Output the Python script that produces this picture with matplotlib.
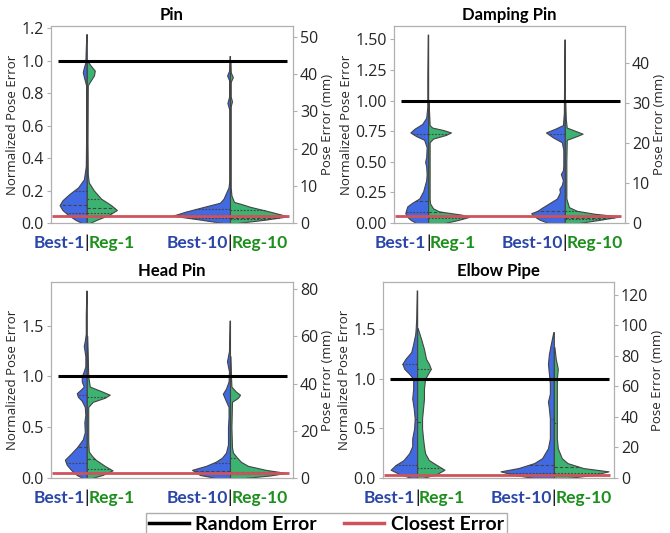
import numpy as np
import matplotlib
matplotlib.use("Agg")
import matplotlib.pyplot as plt
from matplotlib.lines import Line2D
from matplotlib.transforms import blended_transform_factory

# ---- panel level values ----
TITLES = ["Pin", "Damping Pin", "Head Pin", "Elbow Pipe"]
GROUP_LEFT = ["Best-1", "Best-10"]
GROUP_RIGHT = ["Reg-1", "Reg-10"]
RANDOM_ERR = [1.0, 1.0, 1.0, 1.0]
CLOSEST_ERR = [0.041, 0.058, 0.048, 0.034]
MM_PER_UNIT = [43.6, 30.6, 43.0, 64.9]     # normalized -> mm
Y_TOP = [1.215, 1.61, 1.93, 1.975]
LEFT_TICKS = [[0, 0.2, 0.4, 0.6, 0.8, 1.0, 1.2],
              [0, 0.25, 0.5, 0.75, 1.0, 1.25, 1.5],
              [0, 0.5, 1.0, 1.5],
              [0, 0.5, 1.0, 1.5]]
LEFT_FMT = ["%.1f", "%.2f", "%.1f", "%.1f"]
RIGHT_TICKS = [[0, 10, 20, 30, 40, 50],
               [0, 10, 20, 30, 40],
               [0, 20, 40, 60, 80],
               [0, 20, 40, 60, 80, 100, 120]]

# ---- half violin outlines: y (normalized error), half width ----
# Pin
PIN_B1_Y = [0, 0.02, 0.05, 0.08, 0.11, 0.14, 0.18, 0.22, 0.27, 0.35, 0.5, 0.85, 0.9, 0.93, 0.96, 0.99, 1.05, 1.165]
PIN_B1_W = [0.035, 0.08, 0.13, 0.17, 0.19, 0.17, 0.12, 0.06, 0.02, 0.007, 0.005, 0.005, 0.02, 0.028, 0.02, 0.01, 0.008, 0.003]
PIN_R1_Y = [0, 0.02, 0.05, 0.08, 0.11, 0.15, 0.2, 0.25, 0.3, 0.5, 0.85, 0.88, 0.91, 0.94, 0.97, 1.0]
PIN_R1_W = [0.02, 0.07, 0.155, 0.21, 0.17, 0.1, 0.05, 0.014, 0.007, 0.005, 0.007, 0.028, 0.05, 0.056, 0.028, 0.004]
PIN_B10_Y = [0, 0.02, 0.045, 0.07, 0.1, 0.125, 0.15, 0.19, 0.22, 0.26, 0.4, 0.7, 0.74, 0.78, 0.88, 0.91, 0.94, 1.03]
PIN_B10_W = [0.05, 0.2, 0.4, 0.31, 0.18, 0.07, 0.045, 0.025, 0.01, 0.005, 0.005, 0.005, 0.018, 0.006, 0.006, 0.02, 0.006, 0.003]
PIN_R10_Y = [0, 0.02, 0.041, 0.07, 0.1, 0.117, 0.13, 0.17, 0.22, 0.5, 0.72, 0.75, 0.78, 0.87, 0.9, 0.93, 1.0]
PIN_R10_W = [0.05, 0.24, 0.405, 0.28, 0.14, 0.08, 0.028, 0.01, 0.005, 0.005, 0.005, 0.014, 0.005, 0.005, 0.02, 0.005, 0.003]
# Damping Pin
DMP_B1_Y = [0, 0.027, 0.05, 0.08, 0.11, 0.136, 0.166, 0.2, 0.26, 0.35, 0.4, 0.46, 0.5, 0.54, 0.62, 0.68, 0.71, 0.74, 0.77, 0.81, 0.86, 0.95, 1.2, 1.54]
DMP_B1_W = [0.087, 0.13, 0.152, 0.167, 0.16, 0.152, 0.116, 0.065, 0.036, 0.014, 0.011, 0.014, 0.022, 0.014, 0.011, 0.029, 0.087, 0.13, 0.1, 0.043, 0.014, 0.006, 0.006, 0.003]
DMP_R1_Y = [0, 0.025, 0.05, 0.068, 0.095, 0.12, 0.16, 0.2, 0.4, 0.66, 0.69, 0.72, 0.74, 0.76, 0.78, 0.8, 0.9, 1.0]
DMP_R1_W = [0.12, 0.22, 0.3, 0.245, 0.08, 0.036, 0.014, 0.011, 0.011, 0.011, 0.036, 0.13, 0.167, 0.11, 0.03, 0.011, 0.007, 0.003]
DMP_B10_Y = [0, 0.03, 0.06, 0.08, 0.1, 0.12, 0.16, 0.2, 0.25, 0.28, 0.31, 0.35, 0.4, 0.43, 0.47, 0.6, 0.66, 0.7, 0.74, 0.77, 0.8, 0.9, 1.5]
DMP_B10_W = [0.123, 0.19, 0.23, 0.246, 0.2, 0.174, 0.116, 0.058, 0.036, 0.04, 0.022, 0.014, 0.029, 0.014, 0.011, 0.011, 0.022, 0.087, 0.138, 0.072, 0.014, 0.007, 0.003]
DMP_R10_Y = [0, 0.025, 0.054, 0.075, 0.1, 0.13, 0.2, 0.5, 0.68, 0.71, 0.73, 0.755, 0.78, 0.85, 1.0]
DMP_R10_W = [0.1, 0.25, 0.405, 0.22, 0.087, 0.03, 0.011, 0.011, 0.014, 0.087, 0.13, 0.072, 0.014, 0.007, 0.003]
# Head Pin
HP_B1_Y = [0, 0.03, 0.08, 0.13, 0.18, 0.24, 0.3, 0.38, 0.45, 0.55, 0.62, 0.7, 0.76, 0.8, 0.835, 0.87, 0.9, 0.95, 1.0, 1.05, 1.1, 1.2, 1.3, 1.35, 1.42, 1.6, 1.845]
HP_B1_W = [0.028, 0.07, 0.11, 0.14, 0.153, 0.11, 0.07, 0.028, 0.014, 0.017, 0.01, 0.014, 0.035, 0.062, 0.07, 0.042, 0.021, 0.035, 0.035, 0.021, 0.01, 0.01, 0.021, 0.014, 0.007, 0.007, 0.003]
HP_R1_Y = [0, 0.03, 0.075, 0.12, 0.18, 0.22, 0.26, 0.35, 0.5, 0.7, 0.75, 0.79, 0.82, 0.85, 0.9, 1.0, 1.2, 1.4]
HP_R1_W = [0.035, 0.11, 0.18, 0.125, 0.062, 0.035, 0.014, 0.01, 0.01, 0.01, 0.042, 0.125, 0.16, 0.11, 0.021, 0.01, 0.007, 0.003]
HP_B10_Y = [0, 0.03, 0.08, 0.12, 0.16, 0.2, 0.25, 0.33, 0.4, 0.5, 0.6, 0.7, 0.78, 0.83, 0.88, 0.95, 1.05, 1.15, 1.25, 1.55]
HP_B10_W = [0.1, 0.21, 0.265, 0.167, 0.1, 0.056, 0.028, 0.014, 0.014, 0.014, 0.01, 0.01, 0.035, 0.05, 0.028, 0.01, 0.007, 0.021, 0.007, 0.003]
HP_R10_Y = [0, 0.025, 0.05, 0.08, 0.12, 0.16, 0.2, 0.25, 0.3, 0.5, 0.75, 0.79, 0.82, 0.85, 0.9, 1.0, 1.2]
HP_R10_W = [0.1, 0.28, 0.39, 0.25, 0.125, 0.076, 0.05, 0.021, 0.014, 0.01, 0.014, 0.056, 0.07, 0.042, 0.01, 0.007, 0.003]
# Elbow Pipe
EP_B1_Y = [0, 0.04, 0.083, 0.13, 0.18, 0.25, 0.32, 0.4, 0.5, 0.6, 0.7, 0.8, 0.9, 1.0, 1.05, 1.1, 1.15, 1.2, 1.27, 1.35, 1.45, 1.5, 1.6, 1.89]
EP_B1_W = [0.043, 0.13, 0.194, 0.158, 0.1, 0.058, 0.036, 0.036, 0.022, 0.018, 0.025, 0.036, 0.029, 0.029, 0.058, 0.094, 0.108, 0.086, 0.043, 0.029, 0.014, 0.011, 0.007, 0.003]
EP_R1_Y = [0, 0.04, 0.083, 0.13, 0.18, 0.25, 0.32, 0.4, 0.5, 0.6, 0.7, 0.8, 0.9, 1.0, 1.05, 1.1, 1.15, 1.2, 1.3, 1.4, 1.51]
EP_R1_W = [0.043, 0.144, 0.2, 0.144, 0.086, 0.058, 0.05, 0.043, 0.036, 0.036, 0.043, 0.05, 0.05, 0.058, 0.079, 0.1, 0.086, 0.065, 0.05, 0.029, 0.004]
EP_B10_Y = [0, 0.03, 0.067, 0.1, 0.15, 0.2, 0.3, 0.4, 0.5, 0.6, 0.7, 0.77, 0.85, 0.95, 1.05, 1.15, 1.25, 1.35, 1.47]
EP_B10_W = [0.144, 0.288, 0.39, 0.26, 0.144, 0.086, 0.043, 0.029, 0.029, 0.029, 0.036, 0.043, 0.029, 0.029, 0.036, 0.043, 0.036, 0.022, 0.004]
EP_R10_Y = [0, 0.03, 0.067, 0.1, 0.15, 0.2, 0.3, 0.4, 0.5, 0.6, 0.75, 0.9, 1.0, 1.1, 1.2, 1.32]
EP_R10_W = [0.1, 0.288, 0.4, 0.216, 0.1, 0.058, 0.029, 0.022, 0.022, 0.022, 0.022, 0.022, 0.022, 0.029, 0.014, 0.004]

# quartiles (q25, median, q75) per half violin
PIN_Q = [[0.062, 0.113, 0.2], [0.06, 0.09, 0.15], [0.03, 0.05, 0.085], [0.025, 0.033, 0.078]]
DMP_Q = [[0.09, 0.18, 0.73], [0.04, 0.09, 0.73], [0.05, 0.1, 0.73], [0.03, 0.045, 0.1]]
HP_Q = [[0.15, 0.31, 0.82], [0.088, 0.19, 0.8], [0.05, 0.065, 0.15], [0.04, 0.06, 0.2]]
EP_Q = [[0.127, 0.59, 1.15], [0.1, 0.56, 1.095], [0.05, 0.134, 0.59], [0.05, 0.11, 0.55]]

PANEL_HALVES = [
    [(PIN_B1_Y, PIN_B1_W), (PIN_R1_Y, PIN_R1_W), (PIN_B10_Y, PIN_B10_W), (PIN_R10_Y, PIN_R10_W)],
    [(DMP_B1_Y, DMP_B1_W), (DMP_R1_Y, DMP_R1_W), (DMP_B10_Y, DMP_B10_W), (DMP_R10_Y, DMP_R10_W)],
    [(HP_B1_Y, HP_B1_W), (HP_R1_Y, HP_R1_W), (HP_B10_Y, HP_B10_W), (HP_R10_Y, HP_R10_W)],
    [(EP_B1_Y, EP_B1_W), (EP_R1_Y, EP_R1_W), (EP_B10_Y, EP_B10_W), (EP_R10_Y, EP_R10_W)],
]
PANEL_Q = [PIN_Q, DMP_Q, HP_Q, EP_Q]

BLUE = "#4169e1"
GREEN = "#3cb371"
BLUE_TXT = "#2a46a8"
GREEN_TXT = "#1c8f1c"
RED = "#cf535c"
EDGE = "#444444"
SPINE = "#b0b0b0"
TXT = "#262626"

AX_POS = [[0.0761, 0.5816, 0.3612, 0.3696],
          [0.588, 0.5816, 0.3448, 0.3696],
          [0.0761, 0.1032, 0.3612, 0.3677],
          [0.5716, 0.1032, 0.3448, 0.3677]]
XLIM = (-0.25, 1.44)

plt.rcParams['font.family'] = ['Open Sans', 'DejaVu Sans']


def half_violin(ax, x, ys, ws, side, color, quarts):
    ys = np.asarray(ys, float)
    ws = np.asarray(ws, float)
    ax.fill_betweenx(ys, x, x + side * ws, facecolor=color, edgecolor=EDGE, lw=0.8, zorder=2)
    for i, q in enumerate(quarts):
        w = np.interp(q, ys, ws)
        dash = [3.0, 1.8] if i == 1 else [1.6, 1.4]
        ax.plot([x, x + side * w], [q, q], color=EDGE, lw=0.8, dashes=dash, zorder=3)


fig = plt.figure(figsize=(6.7, 5.33), dpi=100)

for k in range(4):
    ax = fig.add_axes(AX_POS[k])
    halves = PANEL_HALVES[k]
    quarts = PANEL_Q[k]
    for g in range(2):
        yb, wb = halves[2 * g]
        yr, wr = halves[2 * g + 1]
        half_violin(ax, g, yb, wb, -1, BLUE, quarts[2 * g])
        half_violin(ax, g, yr, wr, 1, GREEN, quarts[2 * g + 1])
    ax.hlines(RANDOM_ERR[k], -0.2, 1.4, color="black", lw=2.2, zorder=4)
    ax.hlines(CLOSEST_ERR[k], -0.24, 1.41, color=RED, lw=2.0, zorder=4)
    ax.set_xlim(*XLIM)
    ax.set_ylim(0, Y_TOP[k])
    ax.set_xticks([])
    ax.set_yticks(LEFT_TICKS[k])
    ax.set_yticklabels([LEFT_FMT[k] % v for v in LEFT_TICKS[k]])
    ax.tick_params(axis="y", labelsize=11.5, colors=TXT, length=3, width=0.8, pad=2)
    ax.tick_params(axis="y", color=SPINE)
    ax.set_ylabel("Normalized Pose Error", fontsize=9.5, color=TXT, labelpad=2)
    ax.set_title(TITLES[k], fontsize=12, fontweight="bold", family="Lato", pad=4)
    for s in ax.spines.values():
        s.set_color(SPINE)
        s.set_linewidth(0.8)

    tw = ax.twinx()
    tw.set_ylim(0, Y_TOP[k] * MM_PER_UNIT[k])
    tw.set_yticks(RIGHT_TICKS[k])
    tw.tick_params(axis="y", labelsize=11.5, colors=TXT, length=3, width=0.8, pad=2)
    tw.tick_params(axis="y", color=SPINE)
    tw.set_ylabel("Pose Error (mm)", fontsize=9.5, color=TXT, labelpad=2)
    for s in tw.spines.values():
        s.set_color(SPINE)
        s.set_linewidth(0.8)

    tr = blended_transform_factory(ax.transData, ax.transAxes)
    for g in range(2):
        ax.text(g - 0.014, -0.1, GROUP_LEFT[g], transform=tr, ha="right", va="center",
                color=BLUE_TXT, fontsize=12.5, fontweight="bold", family="Lato")
        ax.text(g, -0.1, "|", transform=tr, ha="center", va="center",
                color="black", fontsize=12.5, family="Lato")
        ax.text(g + 0.014, -0.1, GROUP_RIGHT[g], transform=tr, ha="left", va="center",
                color=GREEN_TXT, fontsize=12.5, fontweight="bold", family="Lato")

handles = [Line2D([], [], color="black", lw=2.5), Line2D([], [], color=RED, lw=2.5)]
leg = fig.legend(handles, ["Random Error", "Closest Error"], loc="upper center",
                 bbox_to_anchor=(0.487, 0.0375), borderaxespad=0, ncol=2, frameon=True,
                 fancybox=False, handlelength=2.05, handletextpad=0.35, columnspacing=1.4,
                 borderpad=0.15,
                 prop={"family": "Lato", "weight": "bold", "size": 14})
leg.get_frame().set_edgecolor("#999999")
leg.get_frame().set_linewidth(1.0)

fig.savefig("out.png", dpi=100)
